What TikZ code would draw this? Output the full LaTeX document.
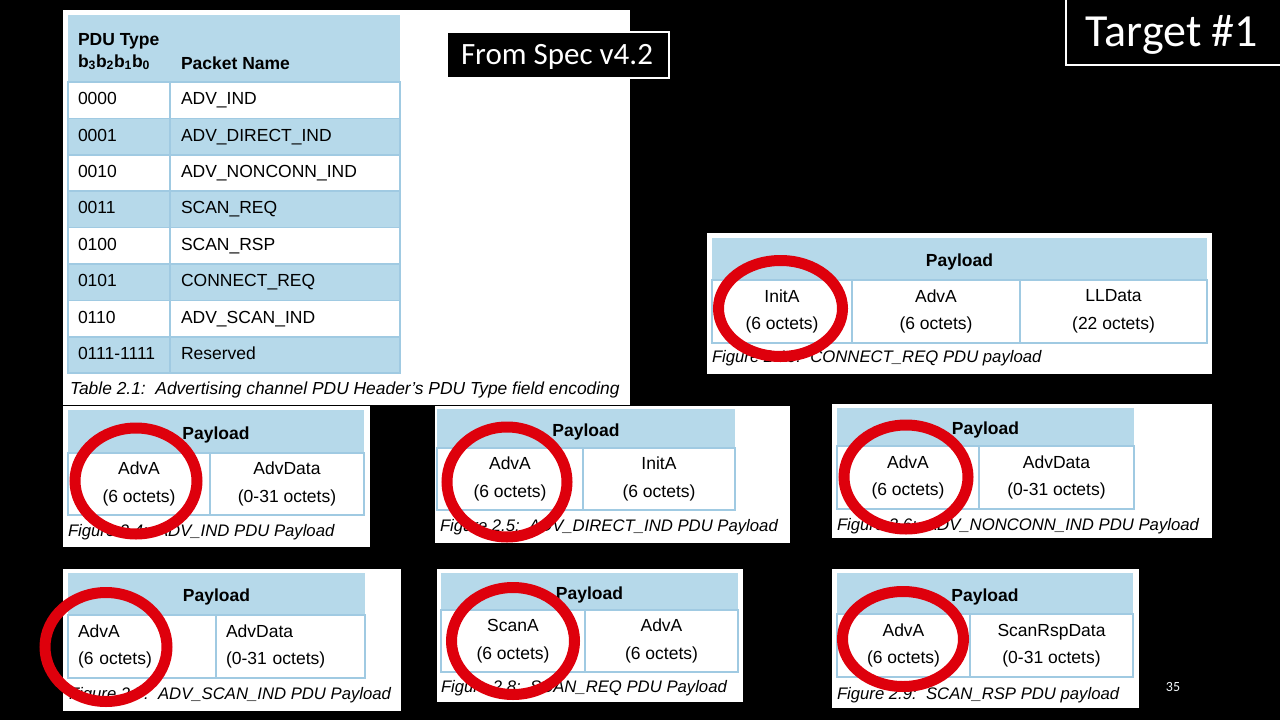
\documentclass[tikz,border=0pt]{standalone}
\usepackage{fontspec}
\setmainfont{Liberation Sans}
\newfontfamily\calibrifont{Carlito}
\usetikzlibrary{positioning}
\definecolor{specblue}{RGB}{182,217,234}
\definecolor{specline}{RGB}{160,202,226}
\definecolor{ringred}{RGB}{222,0,12}
\newcommand\tabfont{\fontsize{17.5}{27.5}\selectfont}

\begin{document}
\begin{tikzpicture}[x=1pt,y=-1pt,
  every node/.style={inner sep=0pt,outer sep=0pt},
  sheet/.style={fill=white,anchor=north west},
  paybar/.style={fill=specblue,anchor=north west,font=\tabfont\bfseries,text height=15.6pt,text depth=0pt},
  field/.style={anchor=north west,draw=specline,line width=1.5pt,fill=white,align=center,font=\tabfont},
  codecell/.style={anchor=north west,draw=specline,line width=1.5pt,minimum height=36.4pt,
    text width=82pt,inner xsep=10pt,text height=12.6pt,text depth=3.8pt,font=\tabfont},
  namecell/.style={codecell,text width=208pt,inner xsep=11pt},
  hdrtext/.style={anchor=base west,font=\tabfont\bfseries},
  figcap/.style={anchor=west,font=\fontsize{16.7}{20}\selectfont\itshape},
  ring/.style={draw=ringred,line width=11pt},
  slidebox/.style={draw=white,line width=1.2pt,fill=black},
  slidetext/.style={anchor=base,text=white,font=\calibrifont}]
\useasboundingbox (0,0) rectangle (1280,720);
\fill[black] (0,0) rectangle (1280,720);

% table 2.1
\node[sheet,minimum width=567pt,minimum height=395pt] (tsheet) at (63,10) {};
\node[paybar,minimum width=332pt,minimum height=67pt] (thead) at (68,15) {};
\node[hdrtext] (htype) at (78,45) {PDU Type};
\node[hdrtext] (hbits) at (78,67) {b\textsubscript{3}b\textsubscript{2}b\textsubscript{1}b\textsubscript{0}};
\node[hdrtext] (hname) at (181,69) {Packet Name};
\node[codecell,fill=white] (c0) at (68,82) {0000};
\node[namecell,fill=white,right=0pt of c0] (n0) {ADV\_IND};
\node[codecell,fill=specblue,below=0pt of c0] (c1) {0001};
\node[namecell,fill=specblue,right=0pt of c1] (n1) {ADV\_DIRECT\_IND};
\node[codecell,fill=white,below=0pt of c1] (c2) {0010};
\node[namecell,fill=white,right=0pt of c2] (n2) {ADV\_NONCONN\_IND};
\node[codecell,fill=specblue,below=0pt of c2] (c3) {0011};
\node[namecell,fill=specblue,right=0pt of c3] (n3) {SCAN\_REQ};
\node[codecell,fill=white,below=0pt of c3] (c4) {0100};
\node[namecell,fill=white,right=0pt of c4] (n4) {SCAN\_RSP};
\node[codecell,fill=specblue,below=0pt of c4] (c5) {0101};
\node[namecell,fill=specblue,right=0pt of c5] (n5) {CONNECT\_REQ};
\node[codecell,fill=white,below=0pt of c5] (c6) {0110};
\node[namecell,fill=white,right=0pt of c6] (n6) {ADV\_SCAN\_IND};
\node[codecell,fill=specblue,below=0pt of c6] (c7) {0111-1111};
\node[namecell,fill=specblue,right=0pt of c7] (n7) {Reserved};
\node[figcap,font=\fontsize{17.4}{20}\selectfont\itshape] (tcap) at (70,390) {Table 2.1:\ \ Advertising channel PDU Header's PDU Type field encoding};

\node[slidebox,minimum width=222pt,minimum height=46pt] (specbox) at (558,55) {};
\node[slidetext,font=\calibrifont\fontsize{31}{36}\selectfont] (spec) at (557,64.5) {From Spec v4.2};
\node[slidebox,anchor=north west,minimum width=230pt,minimum height=71pt] (targetbox) at (1066,-6) {};
\node[slidetext,font=\calibrifont\fontsize{46}{52}\selectfont] (target) at (1172,46) {Target \#1};

% CONNECT_REQ
\node[sheet,minimum width=505pt,minimum height=141pt] (cnsheet) at (707,233) {};
\node[paybar,minimum width=495pt,minimum height=42pt] (cnhead) at (712,238) {Payload};
\node[field,minimum width=140pt,minimum height=63pt] (cninit) at (712,280) {InitA\\(6 octets)};
\node[field,minimum width=168pt,minimum height=63pt,right=0pt of cninit] (cnadv) {AdvA\\(6 octets)};
\node[field,minimum width=187pt,minimum height=63pt,right=0pt of cnadv] (cnll) {LLData\\(22 octets)};
\node[figcap] (cncap) at (712,358) {Figure 2.10:\ \ CONNECT\_REQ PDU payload};

% ADV_IND
\node[sheet,minimum width=307pt,minimum height=141pt] (aisheet) at (63,406) {};
\node[paybar,minimum width=296pt,minimum height=43pt] (aihead) at (68,410) {Payload};
\node[field,minimum width=142pt,minimum height=62pt] (aiadv) at (68,453) {AdvA\\(6 octets)};
\node[field,minimum width=154pt,minimum height=62pt,right=0pt of aiadv] (aidata) {AdvData\\(0-31 octets)};
\node[figcap] (aicap) at (68,532) {Figure 2.4:\ \ ADV\_IND PDU Payload};

% ADV_DIRECT_IND
\node[sheet,minimum width=355pt,minimum height=137pt] (adsheet) at (435,406) {};
\node[paybar,minimum width=298pt,minimum height=39pt] (adhead) at (437,409) {Payload};
\node[field,minimum width=146pt,minimum height=62pt] (adadv) at (437,448) {AdvA\\(6 octets)};
\node[field,minimum width=152pt,minimum height=62pt,right=0pt of adadv] (adinit) {InitA\\(6 octets)};
\node[figcap] (adcap) at (440,527) {Figure 2.5:\ \ ADV\_DIRECT\_IND PDU Payload};

% ADV_NONCONN_IND
\node[sheet,minimum width=380pt,minimum height=134pt] (ansheet) at (832,404) {};
\node[paybar,minimum width=297pt,minimum height=38pt] (anhead) at (837,408) {Payload};
\node[field,minimum width=142pt,minimum height=63pt] (anadv) at (837,446) {AdvA\\(6 octets)};
\node[field,minimum width=155pt,minimum height=63pt,right=0pt of anadv] (andata) {AdvData\\(0-31 octets)};
\node[figcap] (ancap) at (837,526) {Figure 2.6:\ \ ADV\_NONCONN\_IND PDU Payload};

% ADV_SCAN_IND
\node[sheet,minimum width=338pt,minimum height=142pt] (assheet) at (63,569) {};
\node[paybar,minimum width=297pt,minimum height=42pt] (ashead) at (68,573) {Payload};
\node[field,align=left,text width=128pt,inner xsep=10pt,minimum height=63pt] (asadv) at (68,615) {AdvA\\(6 octets)};
\node[field,align=left,text width=129pt,inner xsep=10pt,minimum height=63pt,right=0pt of asadv] (asdata) {AdvData\\(0-31 octets)};
\node[figcap] (ascap) at (69,695) {Figure 2.7:\ \ ADV\_SCAN\_IND PDU Payload};

% SCAN_REQ
\node[sheet,minimum width=306pt,minimum height=133pt] (sqsheet) at (437,569) {};
\node[paybar,minimum width=297pt,minimum height=37pt] (sqhead) at (441,573) {Payload};
\node[field,minimum width=144pt,minimum height=62pt] (sqscan) at (441,610) {ScanA\\(6 octets)};
\node[field,minimum width=153pt,minimum height=62pt,right=0pt of sqscan] (sqadv) {AdvA\\(6 octets)};
\node[figcap] (sqcap) at (441,688) {Figure 2.8:\ \ SCAN\_REQ PDU Payload};

% SCAN_RSP
\node[sheet,minimum width=307pt,minimum height=139pt] (srsheet) at (832,569) {};
\node[paybar,minimum width=296pt,minimum height=41pt] (srhead) at (837,573) {Payload};
\node[field,minimum width=133pt,minimum height=63pt] (sradv) at (837,614) {AdvA\\(6 octets)};
\node[field,minimum width=163pt,minimum height=63pt,right=0pt of sradv] (srdata) {ScanRspData\\(0-31 octets)};
\node[figcap] (srcap) at (837,695) {Figure 2.9:\ \ SCAN\_RSP PDU payload};

\node[text=white!85!specblue,font=\calibrifont\fontsize{14}{16}\selectfont] (pgnum) at (1173,687) {35};

% red rings
\draw[ring] (780.5,308.5) ellipse (62 and 48);
\draw[ring] (136,481) ellipse (61 and 53);
\draw[ring] (507,482) ellipse (60 and 55);
\draw[ring] (906,477) ellipse (62 and 52);
\draw[ring] (106,647) ellipse (61 and 54.5);
\draw[ring] (513,641) ellipse (61.5 and 53.5);
\draw[ring] (903,639) ellipse (60.5 and 47.5);
\end{tikzpicture}
\end{document}
